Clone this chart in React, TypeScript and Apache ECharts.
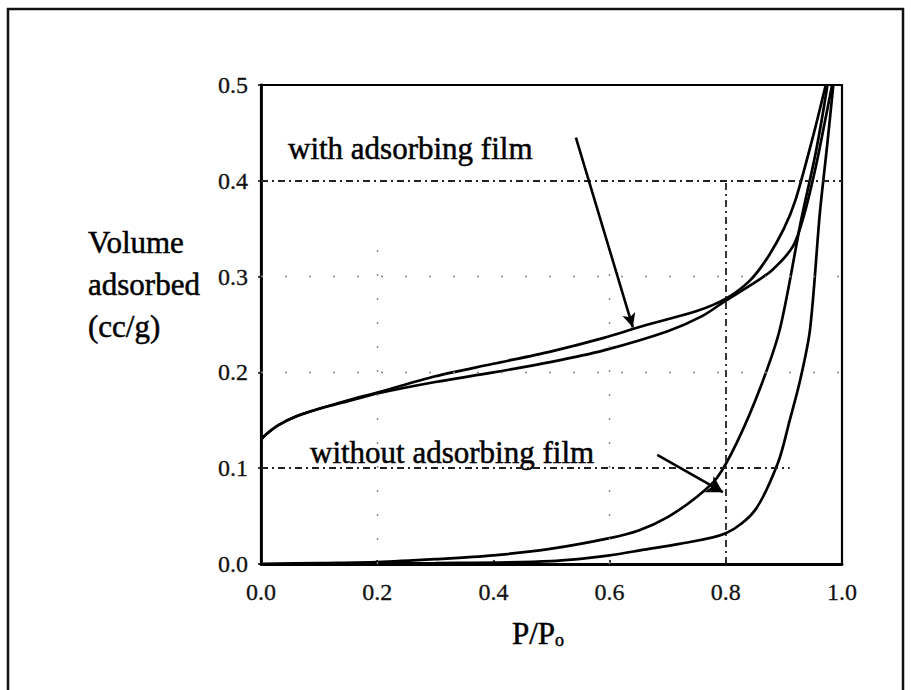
import React, { useEffect, useRef } from "react";
import * as echarts from "echarts";

// ---- data ----
const xTickLabels = ["0.0", "0.2", "0.4", "0.6", "0.8", "1.0"];
const yTickLabels = ["0.0", "0.1", "0.2", "0.3", "0.4", "0.5"];

// with adsorbing film – upper plateau branch (steep rise)
const withFilmUpper: [number, number][] = [
  [0, 0.13], [0.01, 0.136], [0.03, 0.145], [0.06, 0.154], [0.1, 0.162], [0.15, 0.171], [0.2, 0.179],
  [0.3, 0.196], [0.4, 0.209], [0.5, 0.222], [0.59, 0.236], [0.66, 0.249], [0.75, 0.264],
  [0.8, 0.277], [0.84, 0.295], [0.87, 0.318], [0.9, 0.35], [0.92, 0.38], [0.95, 0.446], [0.972, 0.5],
];
// with adsorbing film – lower plateau branch (gentle, then steep)
const withFilmLower: [number, number][] = [
  [0, 0.13], [0.01, 0.136], [0.03, 0.145], [0.06, 0.154], [0.1, 0.162], [0.15, 0.17], [0.2, 0.178],
  [0.3, 0.19], [0.4, 0.2], [0.5, 0.211], [0.59, 0.223], [0.7, 0.243], [0.76, 0.259],
  [0.8, 0.275], [0.84, 0.29], [0.88, 0.307], [0.916, 0.332], [0.935, 0.365], [0.955, 0.415],
  [0.97, 0.46], [0.983, 0.5],
];
// without adsorbing film – left curve
const withoutFilmLeft: [number, number][] = [
  [0, 0], [0.1, 0.001], [0.2, 0.002], [0.3, 0.005], [0.4, 0.009], [0.5, 0.016], [0.6, 0.027],
  [0.65, 0.035], [0.7, 0.049], [0.75, 0.07], [0.785, 0.09], [0.82, 0.128], [0.86, 0.185],
  [0.893, 0.245], [0.93, 0.36], [0.955, 0.43], [0.975, 0.5],
];
// without adsorbing film – right curve
const withoutFilmRight: [number, number][] = [
  [0, 0], [0.3, 0.001], [0.5, 0.003], [0.6, 0.009], [0.66, 0.015], [0.72, 0.021], [0.8, 0.032],
  [0.85, 0.056], [0.89, 0.106], [0.91, 0.15], [0.928, 0.192], [0.945, 0.245], [0.962, 0.367],
  [0.975, 0.44], [0.985, 0.5],
];

// annotation arrows [from, to]
const arrowWithFilm: [number, number][] = [[0.542, 0.445], [0.64, 0.247]];
const arrowWithoutFilm: [number, number][] = [[0.682, 0.114], [0.795, 0.075]];

// dashed reference lines
const hLinesDark: [number, number, number][] = [[0.4, 0, 1], [0.1, 0, 0.91]]; // y, xFrom, xTo
const vLinesDark: [number, number, number][] = [[0.8, 0, 0.4]]; // x, yFrom, yTo
const hLinesFaint: number[] = [0.3, 0.2];
const vLinesFaint: number[] = [0.2, 0.6];

const FONT = "'Liberation Serif', 'Times New Roman', serif";

export default function App() {
  const ref = useRef<HTMLDivElement>(null);

  useEffect(() => {
    if (!ref.current) return;
    const chart = echarts.init(ref.current, undefined, { renderer: "svg" });

    const curveStyle = { color: "#000", width: 2.7 };
    const mkCurve = (name: string, data: [number, number][], extra: any = {}) => ({
      name,
      type: "line",
      data,
      showSymbol: false,
      smooth: 0.3,
      lineStyle: curveStyle,
      itemStyle: { color: "#000" },
      silent: true,
      ...extra,
    });

    const darkDash = { color: "#222", width: 1.8, type: [7, 4, 2, 4] };
    const faintDash = { color: "#888", width: 1.4, type: [2, 22] };

    const markLineData: any[] = [];
    hLinesDark.forEach(([y, x0, x1]) =>
      markLineData.push([{ coord: [x0, y], lineStyle: darkDash }, { coord: [x1, y] }])
    );
    vLinesDark.forEach(([x, y0, y1]) =>
      markLineData.push([{ coord: [x, y0], lineStyle: darkDash }, { coord: [x, y1] }])
    );
    hLinesFaint.forEach((y) =>
      markLineData.push([{ coord: [0, y], lineStyle: faintDash }, { coord: [1, y] }])
    );
    vLinesFaint.forEach((x) =>
      markLineData.push([{ coord: [x, 0], lineStyle: faintDash }, { coord: [x, 0.35] }])
    );

    const arrowLine = { color: "#000", width: 2.6, type: "solid" };
    const strokeText = { stroke: "#000", lineWidth: 0.5 };

    chart.setOption({
      animation: false,
      backgroundColor: "#fff",
      grid: {
        left: 261,
        top: 85,
        width: 581,
        height: 479,
        show: true,
        borderColor: "#000",
        borderWidth: 2.2,
        containLabel: false,
      },
      xAxis: {
        type: "value",
        min: 0,
        max: 1,
        interval: 0.2,
        axisLine: { show: true, onZero: false, lineStyle: { color: "#000", width: 2.8 } },
        axisTick: { show: true, inside: true, length: 4, lineStyle: { color: "#000", width: 1.5 } },
        splitLine: { show: false },
        axisLabel: {
          margin: 16,
          color: "#111",
          fontFamily: FONT,
          fontSize: 24,
          textBorderColor: "#111",
          textBorderWidth: 0.3,
          formatter: (v: number) => xTickLabels[Math.round(v / 0.2)] ?? "",
        },
      },
      yAxis: {
        type: "value",
        min: 0,
        max: 0.5,
        interval: 0.1,
        axisLine: { show: true, onZero: false, lineStyle: { color: "#000", width: 2.8 } },
        axisTick: { show: true, inside: false, length: 3, lineStyle: { color: "#000", width: 1.5 } },
        splitLine: { show: false },
        axisLabel: {
          margin: 13,
          color: "#111",
          fontFamily: FONT,
          fontSize: 24,
          textBorderColor: "#111",
          textBorderWidth: 0.3,
          formatter: (v: number) => yTickLabels[Math.round(v / 0.1)] ?? "",
        },
      },
      series: [
        mkCurve("with film (upper)", withFilmUpper, {
          markLine: {
            silent: true,
            symbol: "none",
            label: { show: false },
            data: markLineData,
          },
        }),
        mkCurve("with film (lower)", withFilmLower, {
          markLine: {
            silent: true,
            symbol: ["none", "arrow"],
            symbolSize: [10, 14],
            label: { show: false },
            lineStyle: arrowLine,
            data: [[{ coord: arrowWithFilm[0] }, { coord: arrowWithFilm[1] }]],
          },
        }),
        mkCurve("without film (left)", withoutFilmLeft, {
          markLine: {
            silent: true,
            symbol: ["none", "arrow"],
            symbolSize: [14, 16],
            label: { show: false },
            lineStyle: arrowLine,
            data: [[{ coord: arrowWithoutFilm[0] }, { coord: arrowWithoutFilm[1] }]],
          },
        }),
        mkCurve("without film (right)", withoutFilmRight),
      ],
      graphic: [
        {
          type: "rect",
          shape: { x: 8, y: 9, width: 895, height: 700 },
          style: { fill: "none", stroke: "#111", lineWidth: 2.5 },
          silent: true,
          z: -1,
        },
        {
          type: "text",
          x: 88,
          y: 284,
          style: {
            text: "Volume\nadsorbed\n(cc/g)",
            font: `31px ${FONT}`,
            fill: "#000",
            lineHeight: 42,
            verticalAlign: "middle",
            align: "left",
            ...strokeText,
          },
        },
        {
          type: "text",
          x: 512,
          y: 633,
          style: {
            text: "{a|P/P}{s|o}",
            rich: {
              a: { fontSize: 31, fontFamily: FONT, fill: "#000", ...strokeText },
              s: { fontSize: 18, fontFamily: FONT, fill: "#000", padding: [14, 0, 0, 0], ...strokeText },
            },
            verticalAlign: "middle",
            align: "left",
          },
        },
        {
          type: "text",
          x: 288,
          y: 148,
          style: {
            text: "with adsorbing film",
            font: `31px ${FONT}`,
            fill: "#000",
            verticalAlign: "middle",
            align: "left",
            ...strokeText,
          },
        },
        {
          type: "text",
          x: 310,
          y: 452,
          style: {
            text: "without adsorbing film",
            font: `31px ${FONT}`,
            fill: "#000",
            verticalAlign: "middle",
            align: "left",
            ...strokeText,
          },
        },
      ],
    });

    return () => chart.dispose();
  }, []);

  return (
    <div
      ref={ref}
      style={{ position: "fixed", left: 0, top: 0, width: 911, height: 690, background: "#fff" }}
    />
  );
}
